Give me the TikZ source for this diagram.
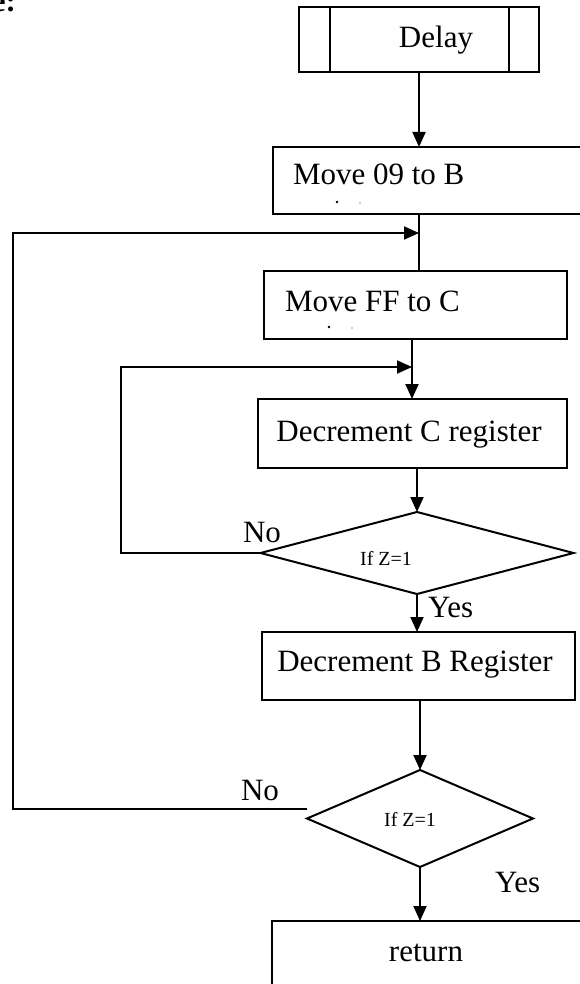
\documentclass[tikz,border=0pt]{standalone}
\usepackage{fontspec}
\setmainfont{Liberation Serif}
\usetikzlibrary{shapes.geometric,arrows.meta}
\begin{document}
\begin{tikzpicture}[x=1pt,y=-1pt,
  every node/.style={inner sep=0pt, outer sep=0pt},
  proc/.style={draw, rectangle, line width=2pt, anchor=north west},
  dec/.style={draw, diamond, line width=2pt},
  txt/.style={font=\fontsize{31}{36}\selectfont},
  small/.style={font=\fontsize{20}{24}\selectfont},
  flow/.style={-{Triangle[length=15pt,width=13pt]}, line width=1.9pt},
  link/.style={line width=1.9pt}]
\useasboundingbox (0,0) rectangle (579,984);

% heading fragment at the top left
\node[font=\fontsize{31}{36}\selectfont\bfseries, anchor=base east] (head) at (16,12) {e:};

% predefined process: Delay
\node[proc, minimum width=240pt, minimum height=65pt] (delay) at (299,7) {};
\draw[line width=2pt] ([xshift=31pt]delay.north west) -- ([xshift=31pt]delay.south west);
\draw[line width=2pt] ([xshift=-30pt]delay.north east) -- ([xshift=-30pt]delay.south east);
\node[txt, anchor=base] (tdelay) at (436,48) {Delay};

% process boxes
\node[proc, minimum width=330pt, minimum height=67pt] (m09) at (273,147) {};
\node[txt, anchor=base west] (tm09) at (293,185) {Move 09 to B};

\node[proc, minimum width=303pt, minimum height=68pt] (mff) at (264,271) {};
\node[txt, anchor=base west] (tmff) at (285,311) {Move FF to C};

\node[proc, minimum width=309pt, minimum height=69pt] (decc) at (258,399) {};
\node[txt, anchor=base] (tdecc) at (409,441) {Decrement C register};

\node[proc, minimum width=313pt, minimum height=68pt] (decb) at (262,632) {};
\node[txt, anchor=base] (tdecb) at (415,671) {Decrement B Register};

\node[proc, minimum width=330pt, minimum height=90pt] (ret) at (272,921) {};
\node[txt, anchor=base] (tret) at (426,961) {return};

% stray specks left inside the two move boxes
\fill (337,202) circle (1.3pt);
\fill[black!40] (360,203) circle (0.8pt);
\fill (329,327) circle (1.3pt);
\fill[black!40] (352,328) circle (0.8pt);

% decisions
\node[dec, minimum width=313pt, minimum height=82pt] (dec1) at (417,553) {};
\node[small, anchor=base] (tdec1) at (386,565) {If Z=1};

\node[dec, minimum width=226pt, minimum height=97pt] (dec2) at (420,818.5) {};
\node[small, anchor=base] (tdec2) at (410,826) {If Z=1};

% branch labels
\node[txt, anchor=base] (no1) at (262,542) {No};
\node[txt, anchor=base west] (yes1) at (428,617) {Yes};
\node[txt, anchor=base] (no2) at (260,800) {No};
\node[txt, anchor=base west] (yes2) at (495,892) {Yes};

% loop corners and joins
\coordinate (c1) at (13,233);
\coordinate (j1) at (419,233);
\coordinate (c2) at (121,367);
\coordinate (j2) at (412,367);

% main flow
\draw[flow] (delay.south) -- (delay.south |- m09.north);
\draw[link] (delay.south |- m09.south) -- (delay.south |- mff.north);
\draw[flow] (j2 |- mff.south) -- (j2 |- decc.north);
\draw[flow] (decc.south -| dec1.north) -- (dec1.north);
\draw[flow] (dec1.south) -- (dec1.south |- decb.north);
\draw[flow] (decb.south -| dec2.north) -- (dec2.north);
\draw[flow] (dec2.south) -- (dec2.south |- ret.north);

% loops back on "No"
\draw[flow] (dec1.west) -| (c2) -- (j2);
\draw[flow] ([yshift=9.5pt]dec2.west) -| (c1) -- (j1);
\end{tikzpicture}
\end{document}
